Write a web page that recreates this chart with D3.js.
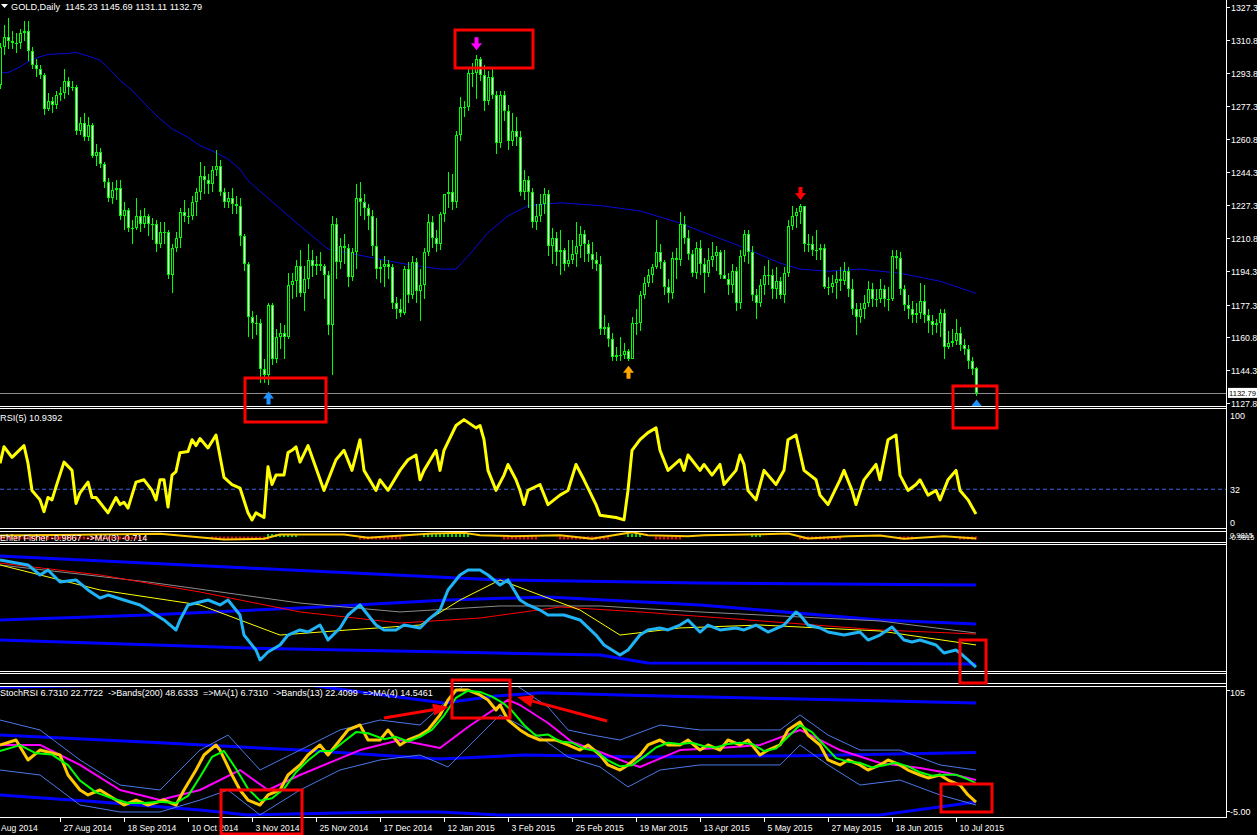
<!DOCTYPE html>
<meta charset="utf-8">
<head>
<script src="https://d3js.org/d3.v7.min.js"></script>
<style>
  body { margin: 0; background: #000; }
  svg text { font-family: "Liberation Sans", Arial, sans-serif; font-size: 9px; fill: #fff; white-space: pre; }
</style>
</head>
<body>
<svg width="1257" height="835"></svg>
<script>
// ---- price bars (6 Aug 2014 .. 17 Jul 2015), index 0..244
var opens = [1288,1307,1312,1310,1309,1309,1314,1315,1305,1298,1296,1293,1276,1280,1278,1283,1284,1290,1287,1287,
1265,1269,1262,1268,1252,1254,1248,1239,1231,1235,1236,1222,1225,1216,1216,1222,1218,1222,1218,1218,
1208,1214,1214,1192,1206,1211,1224,1222,1222,1229,1234,1242,1240,1238,1245,1247,1234,1229,1231,1228,
1227,1212,1198,1171,1168,1168,1145,1142,1177,1150,1161,1163,1161,1187,1189,1197,1183,1190,1200,1197,
1198,1197,1192,1167,1218,1199,1207,1206,1191,1204,1231,1229,1226,1222,1207,1195,1196,1198,1196,1178,
1175,1173,1195,1182,1199,1184,1187,1204,1219,1211,1208,1223,1233,1234,1229,1263,1277,1277,1294,1294,
1301,1293,1280,1292,1283,1259,1283,1275,1260,1265,1262,1234,1240,1234,1219,1222,1228,1233,1207,1211,
1204,1205,1198,1200,1203,1207,1213,1208,1203,1200,1198,1165,1166,1160,1151,1152,1152,1154,1150,1168,
1168,1182,1188,1192,1196,1204,1199,1186,1183,1201,1200,1218,1211,1203,1193,1206,1198,1193,1200,1202,
1204,1192,1190,1187,1194,1178,1202,1213,1204,1182,1178,1187,1192,1192,1185,1189,1182,1193,1217,1222,
1224,1227,1208,1208,1205,1205,1206,1186,1186,1188,1190,1189,1194,1185,1175,1171,1175,1178,1185,1180,
1180,1185,1180,1180,1202,1201,1185,1177,1175,1172,1173,1179,1172,1169,1167,1168,1173,1156,1158,1159,
1163,1157,1155,1149,1145.23];
var highs = [1309,1318,1322,1315,1314,1316,1320,1320,1307,1301,1298,1294,1284,1282,1285,1287,1296,1292,1290,1288,
1272,1274,1272,1269,1258,1256,1249,1241,1239,1240,1240,1229,1226,1220,1231,1225,1226,1223,1221,1220,
1219,1219,1215,1208,1214,1226,1230,1226,1232,1236,1249,1247,1243,1247,1255,1250,1236,1234,1236,1232,
1231,1213,1199,1174,1172,1170,1150,1178,1178,1165,1168,1167,1193,1193,1200,1205,1197,1208,1205,1202,
1204,1198,1194,1222,1221,1211,1213,1208,1206,1238,1239,1233,1228,1225,1221,1200,1202,1200,1198,1181,
1180,1197,1199,1202,1201,1195,1206,1223,1222,1215,1224,1233,1244,1243,1265,1282,1280,1296,1299,1303,
1302,1298,1295,1296,1285,1285,1285,1278,1274,1272,1265,1245,1242,1236,1228,1233,1236,1235,1216,1214,
1215,1206,1210,1210,1219,1217,1215,1210,1209,1204,1202,1172,1168,1163,1156,1161,1158,1155,1171,1175,
1184,1191,1195,1198,1220,1208,1200,1190,1204,1206,1224,1222,1215,1205,1209,1210,1201,1206,1209,1207,
1205,1205,1193,1198,1196,1205,1215,1215,1207,1185,1190,1197,1200,1195,1196,1191,1196,1220,1227,1226,
1228,1226,1213,1212,1215,1208,1208,1191,1192,1194,1196,1199,1196,1190,1178,1178,1182,1189,1188,1185,
1190,1187,1186,1205,1205,1204,1187,1182,1179,1178,1188,1187,1175,1172,1170,1175,1175,1164,1165,1170,
1166,1160,1157,1151,1145.69];
var lows = [1286,1303,1306,1306,1304,1306,1310,1300,1296,1292,1291,1273,1275,1274,1276,1280,1281,1283,1285,1263,
1263,1260,1260,1251,1247,1246,1236,1229,1228,1230,1220,1215,1214,1208,1215,1214,1216,1212,1210,1204,
1206,1208,1190,1183,1204,1206,1219,1218,1220,1222,1230,1233,1233,1234,1242,1232,1226,1226,1223,1223,
1207,1194,1161,1160,1162,1138,1138,1137,1147,1148,1155,1150,1160,1180,1181,1181,1174,1185,1191,1192,
1194,1180,1162,1142,1190,1195,1198,1186,1189,1195,1222,1220,1215,1202,1190,1188,1186,1190,1175,1170,
1171,1172,1178,1180,1178,1169,1180,1202,1206,1204,1205,1219,1226,1225,1226,1260,1272,1275,1287,1281,
1290,1275,1278,1281,1253,1256,1270,1255,1257,1257,1232,1230,1226,1216,1215,1219,1223,1202,1198,1197,
1192,1194,1196,1198,1196,1201,1199,1199,1195,1194,1162,1162,1156,1149,1149,1149,1150,1149,1150,1162,
1164,1180,1186,1188,1195,1195,1182,1178,1180,1190,1197,1208,1200,1191,1190,1192,1183,1191,1196,1194,
1190,1190,1182,1183,1174,1175,1199,1198,1179,1170,1176,1182,1187,1180,1180,1180,1178,1191,1215,1216,
1218,1204,1204,1202,1200,1200,1185,1182,1183,1180,1184,1187,1181,1172,1162,1168,1170,1176,1176,1176,
1178,1176,1174,1179,1195,1182,1174,1170,1168,1168,1170,1168,1163,1162,1163,1161,1150,1155,1156,1157,
1154,1152,1145,1142,1131.11];
var closes = [1307,1312,1310,1309,1309,1314,1315,1305,1298,1296,1293,1276,1280,1278,1283,1284,1290,1287,1287,1265,
1269,1262,1268,1252,1254,1248,1239,1231,1235,1236,1222,1225,1216,1216,1222,1218,1222,1218,1218,1208,
1214,1214,1192,1206,1211,1224,1222,1222,1229,1234,1242,1240,1238,1245,1247,1234,1229,1231,1228,1227,
1212,1198,1171,1168,1168,1145,1142,1177,1150,1161,1163,1161,1187,1189,1197,1183,1190,1200,1197,1198,
1197,1192,1167,1218,1199,1207,1206,1191,1204,1231,1229,1226,1222,1207,1195,1196,1198,1196,1178,1175,
1173,1195,1182,1199,1184,1187,1204,1219,1211,1208,1223,1233,1234,1229,1263,1277,1277,1294,1294,1301,
1293,1280,1292,1283,1259,1283,1275,1260,1265,1262,1234,1240,1234,1219,1222,1228,1233,1207,1211,1204,
1205,1198,1200,1203,1207,1213,1208,1203,1200,1198,1165,1166,1160,1151,1152,1152,1154,1150,1168,1168,
1182,1188,1192,1196,1204,1199,1186,1183,1201,1200,1218,1211,1203,1193,1206,1198,1193,1200,1202,1204,
1192,1190,1187,1194,1178,1202,1213,1204,1182,1178,1187,1192,1192,1185,1189,1182,1193,1217,1222,1224,
1227,1208,1208,1205,1205,1206,1186,1186,1188,1190,1189,1194,1185,1175,1171,1175,1178,1185,1180,1180,
1185,1180,1180,1202,1201,1185,1177,1175,1172,1173,1179,1172,1169,1167,1168,1173,1156,1158,1159,1163,
1157,1155,1149,1145,1132.79];

// moving average on price window [bar, price]
var priceMA = [[0,1294.2],[2,1294.2],[5,1297.1],[8,1301],[12,1303.4],[17,1303.9],[19,1304.4],[22,1302.6],[25,1300.5],
[27,1296.8],[30,1290.3],[33,1285.3],[37,1276.8],[40,1270.9],[43,1265.9],[47,1261.6],[50,1257.4],[53,1254.9],[57,1250.7],
[60,1245.6],[62,1239.7],[75,1217],[82,1205.3],[100,1198.2],[110,1195.2],[114,1195.2],[117,1201.7],[122,1213.6],[127,1222],
[132,1227.2],[140,1228.6],[150,1227.2],[160,1224.5],[170,1218.4],[175,1214.4],[185,1206.8],[195,1198.2],[200,1195.2],
[207,1194.1],[215,1195.2],[225,1193.1],[235,1189.1],[244,1183]];

var priceTicks = [1327.3,1310.8,1293.8,1277.3,1260.8,1244.3,1227.3,1210.8,1194.3,1177.3,1160.8,1144.3,1127.8];
var lastPrice = 1132.79;

// signal arrows [bar, price at tip, colour]
var upArrows = [[67,1133.5,"#1e90ff"],[157,1146.5,"#ffa500"],[244,1129.5,"#1e90ff"]];
var downArrows = [[119,1305.5,"#ff00ff"],[200,1230,"#ff0000"]];

// RSI(5) [bar, value]
var rsi = [[0,54],[1,68],[3,59],[6,69],[7,54],[8,31],[10,23],[11,13],[12,25],[13,23],[14,34],[16,55],[18,48],[19,20],[20,29],
[22,38],[23,25],[24,25],[27,12],[29,25],[30,19],[31,21],[32,16],[34,38],[36,40],[38,31],[39,23],[40,40],[41,40],[42,17],
[43,44],[44,47],[45,63],[47,64],[48,74],[49,69],[50,75],[52,67],[54,78],[56,42],[58,36],[60,33],[62,12],[63,6],[64,12],
[66,8],[67,51],[68,36],[69,44],[71,44],[72,63],[73,65],[74,68],[75,55],[77,69],[81,31],[84,57],[86,65],[88,48],[90,74],
[91,48],[94,31],[95,40],[97,31],[100,48],[102,57],[104,61],[105,40],[106,48],[109,65],[110,48],[111,65],[114,86],[116,91],
[119,84],[120,86],[121,74],[122,48],[124,31],[126,44],[127,53],[129,40],[130,31],[131,19],[132,31],[135,36],[137,19],
[140,27],[142,31],[144,53],[146,40],[149,19],[150,10],[154,8],[156,6],[157,31],[158,65],[160,74],[162,80],[164,84],
[165,65],[167,48],[170,57],[171,48],[172,61],[175,48],[176,53],[178,44],[180,53],[181,36],[184,48],[185,61],[186,53],
[187,31],[189,23],[191,48],[194,36],[196,48],[197,74],[199,78],[201,48],[204,40],[205,27],[207,19],[210,40],[211,48],
[213,31],[214,19],[216,40],[219,53],[220,40],[222,74],[224,78],[225,44],[227,31],[229,36],[230,40],[232,27],[234,31],
[235,23],[237,40],[239,48],[240,31],[242,23],[244,10.94]];
var rsiLevels = [100, 32, 0];

// Ehler Fisher [bar, value] and histogram runs [from, to, sign]
var fisher = [[0,0.22],[20,0.4],[40,0.6],[56,-0.67],[66,-0.5],[70,0.44],[86,0.44],[92,-0.3],[108,0.67],[116,0.82],[120,0.3],
[128,0.07],[140,0.3],[148,-0.5],[158,0.96],[162,0.3],[172,0.07],[176,0.3],[190,0.5],[197,0.67],[202,-0.44],[212,0.07],
[220,0.22],[226,-0.5],[236,0.07],[244,-0.44]];
var fisherRuns = [[0,36,-1],[53,67,-1],[67,74,1],[90,100,-1],[106,117,1],[126,134,-1],[140,152,-1],[157,160,1],
[164,170,-1],[188,190,1],[200,210,-1],[225,228,-1],[240,244,-1]];

// third window: main line, bands, averages [bar, value]
var mainLine = [[0,87.4],[7,83.5],[10,75.6],[12,79.5],[15,70.1],[19,71.7],[22,63.8],[25,57.5],[27,59.8],[31,55.9],[35,52],
[39,44.1],[41,40.2],[44,32.3],[45,40.2],[47,52],[50,54.3],[52,55.9],[55,52],[57,55.9],[60,44.1],[61,28.3],[64,16.5],
[65,8.7],[67,15],[70,20.5],[72,28.3],[75,32.3],[77,30.7],[80,36.2],[82,24.4],[85,33.9],[87,44.1],[90,52],[91,48],
[94,36.2],[96,32.3],[99,32.3],[101,36.2],[105,33.9],[107,40.2],[110,48],[112,63.8],[115,75.6],[117,79.5],[120,79.5],
[122,75.6],[125,67.7],[127,71.7],[130,55.9],[132,52],[135,48],[137,44.1],[141,44.1],[145,40.2],[149,28.3],[151,20.5],
[155,12.6],[157,16.5],[160,28.3],[162,32.3],[165,33.9],[167,32.3],[170,36.2],[172,40.2],[175,30.7],[177,36.2],
[180,32.3],[184,33.9],[186,32.3],[189,36.2],[192,30.7],[196,36.2],[199,46.5],[200,44.1],[202,36.2],[205,33.9],
[207,30.7],[211,28.3],[215,30.7],[217,24.4],[220,28.3],[223,34.6],[226,24.4],[228,22.8],[230,24.4],[234,20.5],
[236,14.2],[239,16.5],[240,14.2],[242,8.7],[244,3.1]];
var bandUpper = [[0,90.6],[62,81.1],[125,71.7],[175,69.3],[244,67.7]];
var bandMiddle = [[0,40.2],[37,44.1],[75,49.6],[112,55.9],[137,58.3],[175,52],[220,40.2],[244,37]];
var bandLower = [[0,24.4],[62,18.1],[150,12.6],[162,6.3],[244,5.5]];
var avgRed = [[0,85],[25,75.6],[50,62.2],[75,46.5],[100,37.8],[120,41.7],[140,50.4],[160,46.5],[187,40.2],[220,32.3],[244,29.1]];
var avgGray = [[0,83.5],[37,70.1],[75,53.5],[100,46.5],[125,51.2],[150,51.2],[175,46.5],[220,39.4],[244,29.9]];
var avgYellow = [[0,83.5],[25,63.8],[50,52],[70,28.3],[87,32.3],[105,36.2],[115,55.9],[125,71.7],[135,59.8],[145,48],
[155,28.3],[170,33.9],[190,36.2],[220,31.5],[244,20.5]];

// StochRSI window [bar, value]
var stochMain = [[0,55.1],[4,59.3],[7,42.4],[10,50.8],[15,46.6],[17,29.7],[20,17],[22,12.8],[25,17],[29,8.5],[31,4.3],
[34,8.5],[37,4.3],[41,8.5],[44,4.3],[46,17],[49,33.9],[51,46.6],[54,55.1],[55,50.8],[58,29.7],[60,17],[62,8.5],[65,4.3],
[67,12.8],[70,17],[72,29.7],[75,38.2],[77,46.6],[80,55.1],[82,46.6],[85,59.3],[87,67.8],[90,72],[92,59.3],[95,59.3],
[97,67.8],[100,55.1],[102,59.3],[105,63.5],[107,67.8],[110,80.5],[112,93.2],[114,101.6],[117,101.6],[120,97.4],
[122,93.2],[124,84.7],[125,88.9],[127,76.2],[130,67.8],[132,63.5],[135,59.3],[139,59.3],[142,55.1],[145,50.8],
[147,55.1],[150,46.6],[152,38.2],[155,33.9],[157,38.2],[160,46.6],[162,55.1],[165,59.3],[167,55.1],[170,55.1],
[172,59.3],[175,50.8],[177,55.1],[180,50.8],[182,59.3],[185,55.1],[187,59.3],[190,46.6],[192,50.8],[195,55.1],
[197,67.8],[200,74.5],[202,63.5],[205,55.1],[207,42.4],[210,38.2],[212,42.4],[215,38.2],[217,33.9],[220,38.2],
[222,42.4],[225,38.2],[227,33.9],[230,29.7],[232,27.2],[235,29.7],[237,25.4],[240,21.2],[242,12.8],[244,6.73]];
var stochSignal = [[0,50],[5,55],[9,48],[13,47],[17,38],[20,25],[24,15],[28,10],[32,6],[36,6],[40,7],[44,6],[47,12],[50,28],
[53,45],[56,50],[59,35],[62,18],[65,8],[68,10],[71,18],[74,32],[77,42],[80,50],[83,50],[86,58],[89,66],[92,65],[96,60],
[99,62],[102,58],[105,62],[108,68],[111,80],[114,95],[117,101],[120,100],[123,96],[126,90],[128,84],[131,72],[134,63],
[137,64],[140,58],[143,57],[146,52],[149,50],[152,42],[155,37],[158,38],[161,45],[164,53],[167,57],[170,56],[173,57],
[176,54],[179,53],[182,56],[185,57],[188,56],[191,50],[194,52],[197,62],[200,72],[203,66],[206,55],[209,44],[212,41],
[215,40],[218,36],[221,38],[224,40],[227,37],[230,32],[233,29],[236,30],[239,30],[242,26],[244,22.77]];
var stochAvg = [[0,55.1],[10,55.1],[20,38.2],[30,17],[40,8.5],[50,17],[60,33.9],[67,17],[75,29.7],[90,50.8],[100,59.3],
[110,52.5],[117,70.3],[127,93.2],[130,88.9],[137,73.7],[143,57.6],[150,49.2],[157,39.9],[160,36.5],[170,50.8],[180,52.5],
[190,55.1],[200,67.8],[210,50.8],[220,39.9],[230,35.6],[237,31.4],[244,25.5]];
var thinUpper = [[0,76.2],[10,67.8],[20,42.4],[30,21.2],[40,17],[50,50.8],[57,63.5],[65,33.9],[75,50.8],[85,67.8],[95,76.2],
[105,72],[112,93.2],[116,105.8],[129,105.8],[137,87.2],[142,67.8],[148,63.5],[155,59.3],[165,72],[175,67.8],[185,67.8],
[195,67.8],[200,80.5],[207,63.5],[215,50.8],[225,50.8],[235,38.2],[244,33.9]];
var thinLower = [[0,33.9],[10,29.7],[20,4.3],[30,-1.6],[40,-1.6],[50,8.5],[57,17],[65,-4.1],[75,17],[85,33.9],[95,42.4],
[105,46.6],[112,36.5],[118,56.8],[125,80.5],[130,72],[135,61.9],[142,44.9],[150,36.5],[157,19.6],[165,33.9],[175,38.2],
[185,38.2],[195,38.2],[200,55.1],[207,38.2],[215,21.2],[225,25.4],[235,12.8],[244,4.3]];
var thickUpper = [[0,104],[33,106],[77,106],[90,100],[111,90.6],[124,96.5],[135,99.3],[160,97],[200,94],[244,90.6]];
var thickMiddle = [[0,63.5],[40,57],[75,50.8],[110,43.2],[131,46.6],[160,44.9],[200,46],[244,48.63]];
var thickLower = [[0,12.8],[25,6.9],[50,0.1],[62,-4.1],[97,-1.6],[110,-1.6],[125,-4.1],[220,-4.1],[244,6.9]];

// time axis
var dateTicks = [[-1,"Aug 2014"],[15,"27 Aug 2014"],[31,"18 Sep 2014"],[47,"10 Oct 2014"],[63,"3 Nov 2014"],[79,"25 Nov 2014"],
[95,"17 Dec 2014"],[111,"12 Jan 2015"],[127,"3 Feb 2015"],[143,"25 Feb 2015"],[159,"19 Mar 2015"],[175,"13 Apr 2015"],
[191,"5 May 2015"],[207,"27 May 2015"],[223,"18 Jun 2015"],[239,"10 Jul 2015"]];

// ---------------------------------------------------------------
var svg = d3.select("svg");
var RIGHT = 1226;
svg.append("rect").attr("width", 1257).attr("height", 835).attr("fill", "#000");

var x = d3.scaleLinear().domain([0, 244]).range([0, 976]);

// windows: top, bottom
var panes = {
    main: [0, 406], rsi: [408, 528], fish: [531, 542], big: [544, 671], empty: [673, 683], stoch: [686, 817]
};
var yPrice = d3.scaleLinear().domain([1127.8, 1327.3]).range([402.8, 7]);
var yRsi = d3.scaleLinear().domain([0, 100]).range([527, 409]);
var yFish = d3.scaleLinear().domain([-1, 1]).range([541, 532]);
var yBig = d3.scaleLinear().domain([0, 100]).range([671, 544]);
var yStoch = d3.scaleLinear().domain([-5, 105]).range([816, 686]);

var defs = svg.append("defs");
Object.keys(panes).forEach(function (k) {
    defs.append("clipPath").attr("id", "clip-" + k)
        .append("rect").attr("x", 0).attr("y", panes[k][0] + 1)
        .attr("width", RIGHT).attr("height", panes[k][1] - panes[k][0] - 1);
});
function pane(k) { return svg.append("g").attr("clip-path", "url(#clip-" + k + ")"); }

function drawLine(g, pts, y, color, w, dash) {
    var line = d3.line().x(function (d) { return x(d[0]); }).y(function (d) { return y(d[1]); });
    g.append("path").datum(pts).attr("d", line).attr("fill", "none")
        .attr("stroke", color).attr("stroke-width", w)
        .attr("stroke-linejoin", "round")
        .attr("stroke-dasharray", dash || null);
}

// ---- main window
var gMain = pane("main");
drawLine(gMain, priceMA, yPrice, "#0a0ad8", 1);

gMain.append("line").attr("x1", 0).attr("x2", RIGHT)
    .attr("y1", Math.round(yPrice(lastPrice)) + 0.5).attr("y2", Math.round(yPrice(lastPrice)) + 0.5)
    .attr("stroke", "#8c8c8c");

var bars = d3.range(closes.length);
var cg = gMain.append("g").attr("shape-rendering", "crispEdges");
bars.forEach(function (i) {
    var cx = Math.round(x(i));
    cg.append("rect").attr("x", cx).attr("width", 1)
        .attr("y", yPrice(highs[i])).attr("height", yPrice(lows[i]) - yPrice(highs[i]))
        .attr("fill", "#00ff00");
    var top = Math.round(yPrice(Math.max(opens[i], closes[i])));
    var bot = Math.round(yPrice(Math.min(opens[i], closes[i])));
    var hgt = Math.max(1, bot - top);
    cg.append("rect").attr("x", cx - 1).attr("width", 3).attr("y", top).attr("height", hgt).attr("fill", "#00ff00");
    if (hgt > 2) {
        cg.append("rect").attr("x", cx).attr("width", 1).attr("y", top + 1).attr("height", hgt - 2)
            .attr("fill", closes[i] < opens[i] ? "#ffffff" : "#000000");
    }
});

function upArrow(g, cx, ty, col) {
    g.append("path").attr("d", "M" + cx + "," + ty + " l5.5,7 h-3.5 v6 h-4 v-6 h-3.5 z")
        .attr("transform", "translate(0.5,0)").attr("fill", col);
}
function downArrow(g, cx, ty, col) {
    g.append("path").attr("d", "M" + cx + "," + ty + " l5.5,-7 h-3.5 v-6 h-4 v6 h-3.5 z")
        .attr("transform", "translate(0.5,0)").attr("fill", col);
}
upArrows.forEach(function (a) { upArrow(gMain, x(a[0]), yPrice(a[1]), a[2]); });
downArrows.forEach(function (a) { downArrow(gMain, x(a[0]), yPrice(a[1]), a[2]); });

// title
svg.append("path").attr("d", "M1,4 h7 l-3.5,4 z").attr("fill", "#fff");
svg.append("text").attr("x", 11).attr("y", 10).style("font-size", "9.2px").text("GOLD,Daily  1145.23 1145.69 1131.11 1132.79");

// ---- RSI window
var gRsi = pane("rsi");
gRsi.append("line").attr("x1", 0).attr("x2", RIGHT).attr("y1", yRsi(32)).attr("y2", yRsi(32))
    .attr("stroke", "#3c64e6").attr("stroke-dasharray", "4,3");
drawLine(gRsi, rsi, yRsi, "#ffff00", 3);
svg.append("text").attr("x", 0).attr("y", 421).style("font-size", "9.2px").text("RSI(5) 10.9392");

// ---- Fisher window
var gFish = pane("fish");
svg.append("text").attr("x", 0).attr("y", 541).text("Ehler Fisher -0.9867  ->MA(3) -0.714");
fisherRuns.forEach(function (r) {
    d3.range(r[0], r[1] + 1).forEach(function (i) {
        gFish.append("rect").attr("x", x(i) - 1).attr("width", 2)
            .attr("y", r[2] > 0 ? yFish(0.55) : yFish(0)).attr("height", 3)
            .attr("fill", r[2] > 0 ? "#00e000" : "#ff0000");
    });
});
drawLine(gFish, fisher, yFish, "#ffc800", 2);

// ---- third window
var gBig = pane("big");
drawLine(gBig, bandUpper, yBig, "#0000ff", 3);
drawLine(gBig, bandMiddle, yBig, "#0000ff", 3);
drawLine(gBig, bandLower, yBig, "#0000ff", 3);
drawLine(gBig, avgGray, yBig, "#8c8c8c", 1);
drawLine(gBig, avgRed, yBig, "#ff0000", 1);
drawLine(gBig, avgYellow, yBig, "#ffff00", 1);
drawLine(gBig, mainLine, yBig, "#1eb4f5", 3);

// ---- StochRSI window
var gSt = pane("stoch");
svg.append("text").attr("x", 0).attr("y", 696)
    .text("StochRSI 6.7310 22.7722  ->Bands(200) 48.6333  =>MA(1) 6.7310  ->Bands(13) 22.4099  =>MA(4) 14.5461");
drawLine(gSt, thickUpper, yStoch, "#0000ff", 3);
drawLine(gSt, thickMiddle, yStoch, "#0000ff", 3);
drawLine(gSt, thickLower, yStoch, "#0000ff", 3);
drawLine(gSt, thinUpper, yStoch, "#4a78e8", 1);
drawLine(gSt, thinLower, yStoch, "#4a78e8", 1);
drawLine(gSt, stochAvg, yStoch, "#ff00ff", 2);
drawLine(gSt, stochMain, yStoch, "#ffc800", 3);
drawLine(gSt, stochSignal, yStoch, "#00ff00", 2);

// ---- window frames and right scale
var frame = svg.append("g").attr("stroke", "#fff").attr("shape-rendering", "crispEdges");
Object.keys(panes).forEach(function (k) {
    if (k !== "main") frame.append("line").attr("x1", 0).attr("x2", RIGHT).attr("y1", panes[k][0] + 0.5).attr("y2", panes[k][0] + 0.5);
    frame.append("line").attr("x1", 0).attr("x2", RIGHT).attr("y1", panes[k][1] + 0.5).attr("y2", panes[k][1] + 0.5);
});
frame.append("line").attr("x1", RIGHT + 0.5).attr("x2", RIGHT + 0.5).attr("y1", 0).attr("y2", 818);

var axis = svg.append("g");
priceTicks.forEach(function (p) {
    var yy = Math.round(yPrice(p)) + 0.5;
    axis.append("line").attr("x1", RIGHT).attr("x2", RIGHT + 4).attr("y1", yy).attr("y2", yy).attr("stroke", "#fff");
    axis.append("text").attr("x", RIGHT + 5).attr("y", yy + 3.5).style("font-size", "8.8px").text(p.toFixed(1));
});
axis.append("rect").attr("x", RIGHT + 2).attr("y", yPrice(lastPrice) - 5).attr("width", 31).attr("height", 10).attr("fill", "#fff");
axis.append("text").attr("x", RIGHT + 3).attr("y", yPrice(lastPrice) + 3.5).style("fill", "#000").style("font-size", "7.6px").text(lastPrice.toFixed(2));

rsiLevels.forEach(function (v) {
    var yy = v === 100 ? 415 : v === 0 ? 522 : yRsi(v);
    axis.append("text").attr("x", RIGHT + 4).attr("y", yy + 3.5).text(v);
});
axis.append("text").attr("x", RIGHT + 4).attr("y", 538).style("font-size", "7.5px").text("0.9815");
axis.append("text").attr("x", RIGHT + 3).attr("y", 540).style("font-size", "7.5px").text("-0.9815");
axis.append("text").attr("x", RIGHT + 4).attr("y", 696).text("105");
axis.append("line").attr("x1", RIGHT).attr("x2", RIGHT + 4).attr("y1", 690.5).attr("y2", 690.5).attr("stroke", "#fff");
axis.append("text").attr("x", RIGHT + 4).attr("y", 815).text("-5.00");
axis.append("line").attr("x1", RIGHT).attr("x2", RIGHT + 4).attr("y1", 811.5).attr("y2", 811.5).attr("stroke", "#fff");

// time scale
dateTicks.forEach(function (t, k) {
    var xx = Math.round(x(t[0])) + 0.5;
    axis.append("line").attr("x1", xx).attr("x2", xx).attr("y1", 818).attr("y2", 822).attr("stroke", "#fff");
    axis.append("text").attr("x", k === 0 ? 1 : xx + 3).attr("y", 831).style("font-size", "8.6px").text(t[1]);
});

// ---- red annotations
var ann = svg.append("g").attr("fill", "none").attr("stroke", "#ff0000").attr("stroke-width", 3);
var boxes = [[455, 30, 78, 38], [245, 378, 81, 44], [953, 386, 44, 42], [960, 640, 26, 43], [452, 680, 58, 38], [221, 790, 81, 44], [941, 784, 51, 28]];
boxes.forEach(function (b) {
    ann.append("rect").attr("x", b[0]).attr("y", b[1]).attr("width", b[2]).attr("height", b[3]);
});
function redArrow(x1, y1, x2, y2) {
    var a = Math.atan2(y2 - y1, x2 - x1), L = 16, W = 6;
    var bx = x2 - L * Math.cos(a), by = y2 - L * Math.sin(a);
    ann.append("line").attr("x1", x1).attr("y1", y1).attr("x2", bx).attr("y2", by);
    ann.append("path").attr("stroke", "none").attr("fill", "#ff0000")
        .attr("d", "M" + x2 + "," + y2 + "L" + (bx + W * Math.sin(a)) + "," + (by - W * Math.cos(a)) +
            "L" + (bx - W * Math.sin(a)) + "," + (by + W * Math.cos(a)) + "Z");
}
redArrow(384, 718, 449, 707);
redArrow(607, 721, 517, 697);
</script>
</body>
</html>
